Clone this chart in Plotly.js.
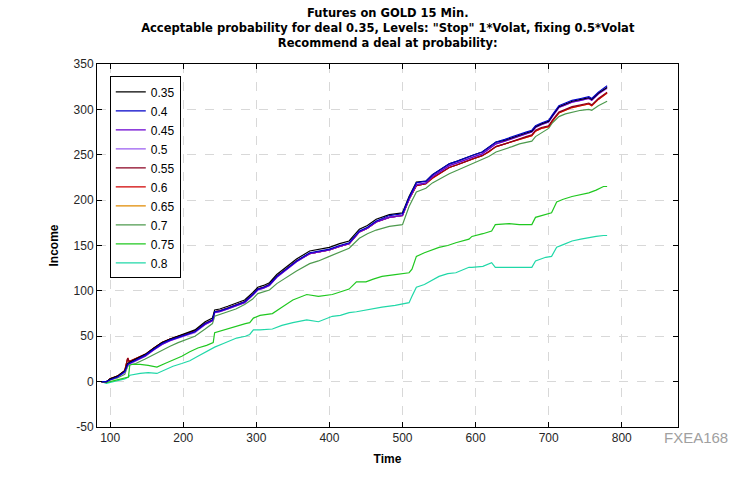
<!DOCTYPE html>
<html>
<head>
<meta charset="utf-8">
<script src="https://cdn.plot.ly/plotly-3.0.1.min.js"></script>
<style>html,body{margin:0;padding:0;background:#fff;}#chart{width:750px;height:480px;}</style>
</head>
<body>
<div id="chart"></div>
<script>
// ---- data ----
const timeMain = [88,95,100,110,120,124,126,135,148,160,171,182,193,205,216,230,240,243,250,261,272,284,295,302,310,318,328,341,355,373,385,400,414,427,441,452,464,482,500,504,509,519,532,541,552,564,575,587,598,609,618,628,640,650,660,669,677,682,690,700,705,714,723,732,744,755,759,768,780];

const p035 = [0,0,3,6,12,20,21,25,30,37,43,47,50,54,57,66,70,79,80,83,86,90,98,104,106,109,118,126,135,144,146,148,152,155,168,172,179,184,186,194,204,220,221,228,234,240,243,247,250,253,258,264,266,269,272,274,276,281,284,287,293,303,306,309,311,313,311,318,324];
const p040 = [0,0,2,5,11,19,20,24,29,36,42,46,49,52,55,64,68,77,78,81,84,88,96,102,104,107,116,124,133,142,144,146,150,153,166,170,177,183,185,193,203,219,221,228,234,240,243,247,250,253,258,264,267,270,273,275,277,282,285,288,294,304,307,310,312,314,312,319,326];
const p045 = [0,0,2,5,11,19,20,23,28,35,41,45,48,52,55,63,67,76,77,80,83,87,95,101,103,106,115,123,132,141,143,145,149,152,165,169,176,181,183,191,201,217,219,226,232,238,241,245,248,251,256,262,265,268,271,273,275,280,283,286,292,302,305,308,310,312,310,317,324];
const p050 = [0,0,2,5,10,18,19,23,28,35,41,45,48,51,54,63,67,76,77,80,83,87,95,101,103,106,115,123,132,141,143,145,149,152,165,169,176,181,183,191,201,217,219,226,232,238,241,245,248,251,256,262,265,268,271,273,275,280,283,286,292,302,305,308,310,312,310,317,323];
const p055 = [0,0,3,6,12,26,22,25,30,37,43,47,50,53,56,64,68,77,78,81,84,88,96,102,104,107,116,124,133,141,143,145,149,152,165,169,176,181,183,191,201,216,218,225,230,236,239,243,246,249,254,259,262,265,268,270,272,277,280,282,288,297,300,303,305,307,305,312,319];
const p060 = [0,0,3,6,12,26,22,25,30,37,43,47,50,53,56,64,68,77,78,81,84,88,96,102,104,107,116,124,133,141,143,145,149,152,165,169,176,181,183,191,201,216,218,224,230,236,239,243,246,249,253,259,262,265,267,269,271,276,279,281,287,296,299,302,304,306,304,311,318];
const p065 = p060.slice();
const p070 = [0,0,2,4,8,17,18,20,25,30,35,39,43,47,50,58,64,72,74,77,80,85,91,97,99,101,108,115,122,130,133,138,143,147,158,163,167,171,173,182,193,209,213,219,224,229,233,237,241,245,248,253,256,259,262,264,265,270,274,279,285,292,295,297,299,300,299,304,309];

const timeLow = [88,95,100,110,120,125,127,141,152,164,175,186,198,209,220,232,241,243,255,273,285,291,296,305,322,335,350,369,385,404,415,427,437,450,460,472,490,509,513,519,530,550,562,573,591,595,610,622,627,646,660,677,682,696,704,711,720,732,744,755,765,775,780];
const p075 = [0,-1,0,2,4,5,19,19,18,16,20,24,28,33,37,40,43,54,57,61,64,65,70,73,75,82,90,96,94,96,99,102,110,110,113,116,118,120,124,138,142,148,150,153,157,160,163,166,173,174,173,173,181,184,186,198,201,204,206,208,211,215,215];
const p080 = [0,-2,-1,1,3,5,7,9,10,9,13,17,20,23,28,33,37,38,42,48,50,52,57,57,58,62,65,68,66,72,73,76,77,79,80,82,84,87,94,104,107,116,119,120,126,126,127,131,126,126,126,126,133,137,138,148,151,155,157,159,160,161,161];

const seriesNames = ['0.35','0.4','0.45','0.5','0.55','0.6','0.65','0.7','0.75','0.8'];
const seriesColors = ['#000000','#0000c8','#6a00d0','#9a5cf0','#8a0020','#d00000','#e08a00','#4e9a4e','#20c820','#20d8a8'];
const seriesX = [timeMain,timeMain,timeMain,timeMain,timeMain,timeMain,timeMain,timeMain,timeLow,timeLow];
const seriesY = [p035,p040,p045,p050,p055,p060,p065,p070,p075,p080];
const xTicks = [100,200,300,400,500,600,700,800];
const yTicks = [-50,0,50,100,150,200,250,300,350];

// drawing order (hidden orange line drawn first), legend order kept by legendrank
const drawOrder = [6,7,9,8,5,4,3,2,0,1];
const traces = drawOrder.map(i => ({
  type: 'scatter', mode: 'lines',
  x: seriesX[i], y: seriesY[i],
  name: seriesNames[i],
  legendrank: i + 1,
  line: {color: seriesColors[i], width: 1.2},
  hoverinfo: 'skip'
}));

const FONT = 'Liberation Sans, Arial, sans-serif';
const TFONT = 'DejaVu Sans, Verdana, sans-serif';
const layout = {
  width: 750, height: 480,
  paper_bgcolor: '#ffffff', plot_bgcolor: '#ffffff',
  margin: {l: 97, r: 72, t: 64, b: 53},
  font: {family: FONT, size: 12, color: '#262626'},
  title: {
    text: '<b>Futures on GOLD 15 Min.<br>Acceptable probability for deal 0.35, Levels: "Stop" 1*Volat, fixing 0.5*Volat<br>Recommend a deal at probability:</b>',
    font: {family: TFONT, size: 11.5, color: '#000000'},
    x: 0.517, xanchor: 'center', yref: 'container', y: 0.964, yanchor: 'bottom'
  },
  showlegend: true,
  legend: {
    x: 0.022, xanchor: 'left', y: 0.966, yanchor: 'top',
    bgcolor: '#ffffff', bordercolor: '#000000', borderwidth: 1,
    font: {family: FONT, size: 12, color: '#000000'},
    tracegroupgap: 0, itemwidth: 30
  },
  xaxis: {
    range: [82, 877], tickvals: xTicks, ticktext: xTicks.map(String),
    showgrid: true, gridcolor: '#d8d8d8', griddash: 'dash', gridwidth: 1,
    zeroline: false, showline: true, linecolor: '#000000', linewidth: 1, mirror: 'allticks',
    ticks: 'inside', ticklen: 5, tickcolor: '#000000',
    tickfont: {family: FONT, size: 12, color: '#262626'},
    title: {text: '<b>Time</b>', font: {family: FONT, size: 12, color: '#000000'}, standoff: 10}
  },
  yaxis: {
    range: [-50, 350], tickvals: yTicks, ticktext: yTicks.map(String),
    showgrid: true, gridcolor: '#d8d8d8', griddash: 'dash', gridwidth: 1,
    zeroline: false, showline: true, linecolor: '#000000', linewidth: 1, mirror: 'allticks',
    ticks: 'inside', ticklen: 5, tickcolor: '#000000',
    tickfont: {family: FONT, size: 12, color: '#262626'},
    title: {text: '<b>Income</b>', font: {family: FONT, size: 12, color: '#000000'}, standoff: 12}
  },
  annotations: [{
    xref: 'paper', yref: 'paper', x: 1.09, y: -0.028, xanchor: 'right', yanchor: 'middle',
    text: 'FXEA168', showarrow: false,
    font: {family: FONT, size: 15, color: '#a0a0a0'}
  }]
};

Plotly.newPlot('chart', traces, layout, {displayModeBar: false, staticPlot: true});
</script>
</body>
</html>
